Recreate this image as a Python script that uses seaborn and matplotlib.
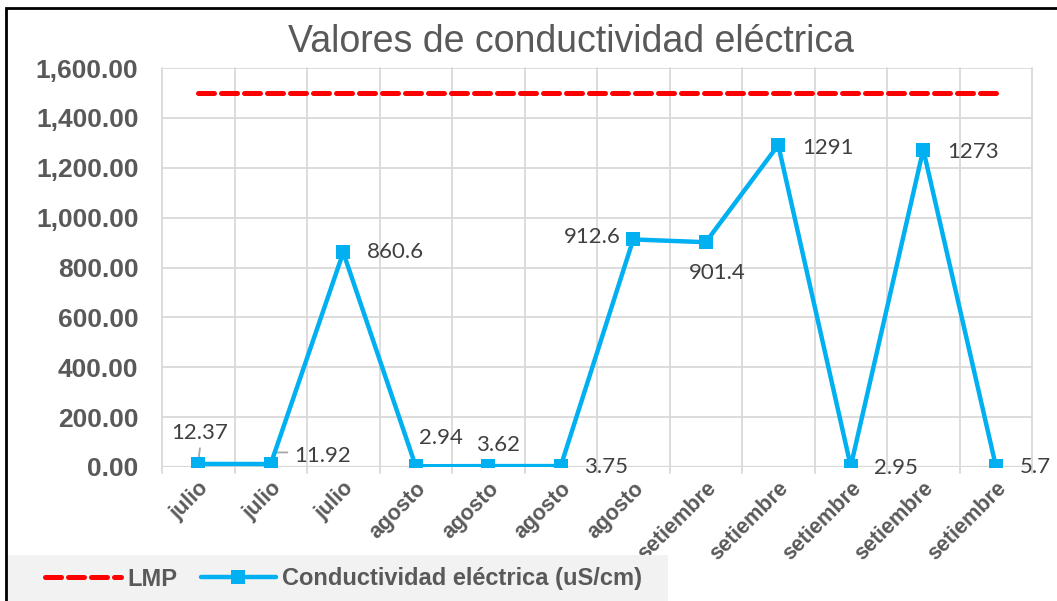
import numpy as np
import matplotlib
matplotlib.use('Agg')
import matplotlib.pyplot as plt
import seaborn as sns
from matplotlib.patches import Rectangle
from matplotlib.lines import Line2D

# data
months = ['julio', 'julio', 'julio', 'agosto', 'agosto', 'agosto', 'agosto',
          'setiembre', 'setiembre', 'setiembre', 'setiembre', 'setiembre']
conductividad = [12.37, 11.92, 860.6, 2.94, 3.62, 3.75, 912.6,
                 901.4, 1291, 2.95, 1273, 5.7]
labels = ['12.37', '11.92', '860.6', '2.94', '3.62', '3.75', '912.6',
          '901.4', '1291', '2.95', '1273', '5.7']
lmp = [1500] * len(months)

# label offsets in points (style only)
offsets = [(1, 22), (17, 6), (17, 0), (18, 20), (7, 15), (17, -1), (-9, 2),
           (8, -22), (17, -2), (17, -1), (17, -2), (17, -1)]
aligns = ['center', 'left', 'left', 'center', 'center', 'left', 'right',
          'center', 'left', 'left', 'left', 'left']

sns.set_style('white')
plt.rcParams['font.family'] = ['Liberation Sans', 'DejaVu Sans']

blue = '#00b0f0'
grey = '#595959'
pos = np.arange(len(months))

fig = plt.figure(figsize=(10.57, 6.01), dpi=100)
ax = fig.add_axes([162 / 1057, 1 - 467 / 601, (1032 - 162) / 1057, (467 - 68) / 601])

sns.lineplot(x=pos, y=lmp, ax=ax, color='#ff0000', linewidth=3.6,
             linestyle=(0, (3.2, 1.4)), dash_capstyle='round', zorder=3)
sns.lineplot(x=pos, y=conductividad, ax=ax, color=blue, linewidth=3.2,
             marker='s', markersize=10, markeredgewidth=0, zorder=4)

ax.set_xlim(-0.5, len(months) - 0.5)
ax.set_ylim(0, 1600)
ax.set_yticks(np.arange(0, 1601, 200))
ax.set_yticklabels([f'{v:,.2f}' for v in np.arange(0, 1601, 200)],
                   fontsize=19, fontweight='bold', color=grey)
ax.set_xticks(pos)
ax.set_xticklabels(months, rotation=45, ha='right', rotation_mode='anchor',
                   fontsize=15.5, fontweight='bold', color=grey)
ax.tick_params(axis='x', length=0, pad=8)
ax.tick_params(axis='y', length=0, pad=17)

# gridlines between categories, like Excel
for b in np.arange(-0.5, len(months), 1):
    ax.plot([b, b], [-25, 1600], color='#d9d9d9', lw=1.3, zorder=1, clip_on=False)
for v in np.arange(200, 1601, 200):
    ax.axhline(v, color='#d9d9d9', lw=1.3, zorder=1)
ax.axhline(0, color='#d9d9d9', lw=1.6, zorder=2)
for s in ax.spines.values():
    s.set_visible(False)

for i, (x, y) in enumerate(zip(pos, conductividad)):
    ax.annotate(labels[i], (x, y), xytext=offsets[i], textcoords='offset points',
                ha=aligns[i], va='center', fontsize=16, color='#404040',
                family=['Lato', 'DejaVu Sans'], zorder=5)

# little leader lines of the first two labels
ax.annotate('', (0, 25), xytext=(1.5, 11), textcoords='offset points',
            arrowprops=dict(arrowstyle='-', color='#a6a6a6', lw=1.3))
ax.annotate('', (1, 25), xytext=(14, 6), textcoords='offset points',
            arrowprops=dict(arrowstyle='-', color='#a6a6a6', lw=1.3,
                            connectionstyle='angle,angleA=0,angleB=70,rad=0'))

fig.text(571 / 1057, 1 - 42 / 601, 'Valores de conductividad eléctrica',
         ha='center', va='center', fontsize=27, color=grey)

# legend box
fig.patches.append(Rectangle((7 / 1057, 0), (668 - 7) / 1057, 46 / 601,
                             transform=fig.transFigure, facecolor='#f2f2f2',
                             edgecolor='none', zorder=0))
handles = [Line2D([], [], color='#ff0000', lw=3.6, linestyle=(0, (3.2, 1.4)),
                  dash_capstyle='round'),
           Line2D([], [], color=blue, lw=3.2, marker='s', markersize=10,
                  markeredgewidth=0)]
leg = fig.legend(handles, ['LMP', 'Conductividad eléctrica (uS/cm)'],
                 loc='center left', bbox_to_anchor=(36 / 1057, 22 / 601),
                 ncol=2, frameon=False, handlelength=3.2, handletextpad=0.25,
                 columnspacing=1.0, borderaxespad=0,
                 prop={'weight': 'bold', 'size': 17})
for t in leg.get_texts():
    t.set_color(grey)

# outer frame
fig.patches.append(Rectangle((6 / 1057, -0.01), 1.05, 1 - 8 / 601 + 0.01,
                             transform=fig.transFigure, facecolor='none',
                             edgecolor='black', lw=2, zorder=10))

fig.savefig('out.png', dpi=100)
